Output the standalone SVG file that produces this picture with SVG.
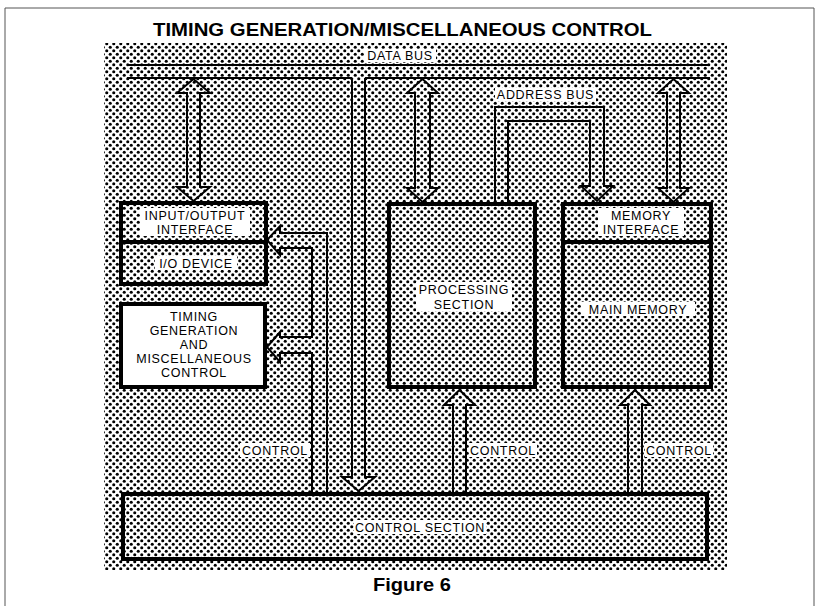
<svg xmlns="http://www.w3.org/2000/svg" width="819" height="606" viewBox="0 0 819 606">
  <defs>
    <!-- halftone screen used for the panel background -->
    <pattern id="dots" width="7" height="7" patternUnits="userSpaceOnUse">
      <rect width="7" height="7" fill="#fff"/>
      <circle cx="1.75" cy="1.75" r="1.55" fill="#000"/>
      <circle cx="5.25" cy="5.25" r="1.55" fill="#000"/>
    </pattern>
    <style>
      .lbl { font-family: "Liberation Sans", Arial, sans-serif; font-size: 12.5px; letter-spacing: 0.7px; fill: #000; text-anchor: middle; }
      .ttl { font-family: "Liberation Sans", Arial, sans-serif; font-weight: bold; fill: #000; text-anchor: middle; }
      .box { fill: none; stroke: #000; stroke-width: 4; }
      .wbox { fill: #fff; stroke: #000; stroke-width: 4; }
      .bg { fill: #fff; }
      .wire { fill: none; stroke: #000; stroke-width: 2; stroke-linejoin: miter; }
    </style>
  </defs>

  <rect width="819" height="606" fill="#fff"/>
  <!-- page frame -->
  <path d="M5,606 V8 H814 V606" fill="none" stroke="#555" stroke-width="1"/>

  <text class="ttl" x="402.5" y="36" font-size="19" textLength="499" lengthAdjust="spacingAndGlyphs">TIMING GENERATION/MISCELLANEOUS CONTROL</text>

  <!-- screened panel -->
  <rect x="104" y="43" width="623" height="527" fill="url(#dots)"/>

  <g id="connectors">
    <!-- data bus -->
    <path class="wire" d="M127,65 H710"/>
    <path class="wire" d="M127,78 H352 M365,78 H710"/>
    <!-- data bus branch down to control section -->
    <path class="wire" d="M352,78 V477 H342 L358.5,491 L375,477 H365 V78"/>
    <!-- data bus <-> I/O interface -->
    <path class="wire" d="M187,93 H177 L193.5,79 L210,93 H200 V187 H210 L193.5,201 L177,187 H187 Z"/>
    <!-- data bus <-> processing section -->
    <path class="wire" d="M415,93 H407 L422.5,79 L438,93 H430 V188 H438 L422.5,202 L407,188 H415 Z"/>
    <!-- data bus <-> memory interface -->
    <path class="wire" d="M667,93 H658 L673.5,79 L689,93 H680 V188 H689 L673.5,202 L658,188 H667 Z"/>
    <!-- address bus -->
    <path class="wire" d="M495,203 V107 H604 V186 H613 L597,201 L581,186 H590 V121 H508 V203"/>
    <!-- control to processing section -->
    <path class="wire" d="M453,493 V405 H444 L459.5,390 L475,405 H466 V493"/>
    <!-- control to memory -->
    <path class="wire" d="M628,493 V405 H620 L635,390 L650,405 H642 V493"/>
    <!-- control to I/O interface and timing generation -->
    <path class="wire" d="M327,493 V233 H280 V226 L267,240 L280,255 V248 H312 V337 H280 V332 L267,347 L280,362 V353 H312 V493"/>
  </g>

  <g id="data-bus-label">
    <rect class="bg" x="364" y="49" width="72" height="13"/>
    <text class="lbl" x="400" y="59.5">DATA BUS</text>
  </g>
  <g id="address-bus-label">
    <rect class="bg" x="495" y="88" width="101" height="13"/>
    <text class="lbl" x="545.5" y="98.5">ADDRESS BUS</text>
  </g>

  <g id="io">
    <rect class="box" x="121" y="203" width="145" height="81"/>
    <line x1="121" y1="242" x2="266" y2="242" stroke="#000" stroke-width="4"/>
    <rect class="bg" x="140" y="208" width="110" height="28"/>
    <text class="lbl" x="195" y="219.5">INPUT/OUTPUT</text>
    <text class="lbl" x="195" y="233.5">INTERFACE</text>
    <rect class="bg" x="155" y="256" width="82" height="14"/>
    <text class="lbl" x="196" y="267.5">I/O DEVICE</text>
  </g>

  <g id="timing">
    <rect class="wbox" x="121" y="304" width="144" height="83"/>
    <text class="lbl" x="194" y="320.5">TIMING</text>
    <text class="lbl" x="194" y="334.5">GENERATION</text>
    <text class="lbl" x="194" y="348.5">AND</text>
    <text class="lbl" x="194" y="362.5">MISCELLANEOUS</text>
    <text class="lbl" x="194" y="376.5">CONTROL</text>
  </g>

  <g id="processing">
    <rect class="box" x="389" y="204" width="146" height="183"/>
    <rect class="bg" x="416" y="282" width="96" height="29"/>
    <text class="lbl" x="464" y="293.5">PROCESSING</text>
    <text class="lbl" x="464" y="308.5">SECTION</text>
  </g>

  <g id="memory">
    <rect class="box" x="563" y="204" width="148" height="183"/>
    <line x1="563" y1="242" x2="711" y2="242" stroke="#000" stroke-width="4"/>
    <rect class="bg" x="598" y="208" width="86" height="28"/>
    <text class="lbl" x="641" y="219.5">MEMORY</text>
    <text class="lbl" x="641" y="233.5">INTERFACE</text>
    <rect class="bg" x="581" y="302" width="114" height="14"/>
    <text class="lbl" x="638" y="313.5">MAIN MEMORY</text>
  </g>

  <g id="control-labels">
    <rect class="bg" x="240" y="443" width="70" height="14"/>
    <text class="lbl" x="275" y="454.5">CONTROL</text>
    <rect class="bg" x="469" y="443" width="68" height="14"/>
    <text class="lbl" x="503" y="454.5">CONTROL</text>
    <rect class="bg" x="645" y="443" width="68" height="14"/>
    <text class="lbl" x="679" y="454.5">CONTROL</text>
  </g>

  <g id="control-section">
    <rect class="box" x="123" y="494" width="584" height="65"/>
    <rect class="bg" x="354" y="520" width="132" height="14"/>
    <text class="lbl" x="420" y="531.5">CONTROL SECTION</text>
  </g>

  <text class="ttl" x="412" y="591" font-size="19" textLength="78" lengthAdjust="spacingAndGlyphs">Figure 6</text>
</svg>
